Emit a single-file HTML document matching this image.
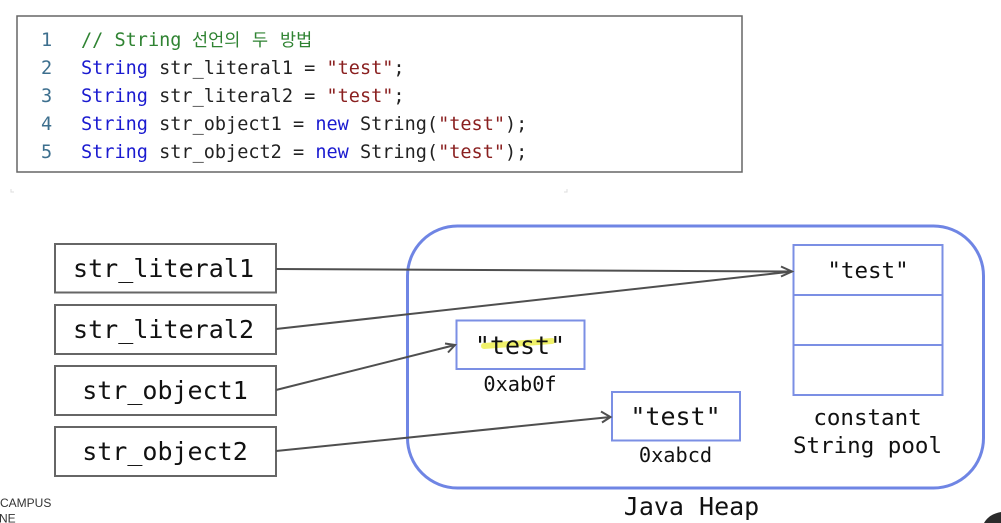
<!DOCTYPE html>
<html>
<head>
<meta charset="utf-8">
<style>
html,body{margin:0;padding:0;background:#fff;}
body{width:1001px;height:523px;overflow:hidden;}
svg{display:block;}
.c{font-family:"DejaVu Sans Mono","Liberation Mono","Noto Sans CJK KR",monospace;font-size:18.55px;}
.d{font-family:"DejaVu Sans Mono","Liberation Mono",monospace;fill:#111;}
.k{font-family:"Noto Sans CJK KR",sans-serif;font-size:17.5px;fill:#2f8332;}
</style>
</head>
<body>
<svg width="1001" height="523" viewBox="0 0 1001 523" xmlns="http://www.w3.org/2000/svg">
<rect x="0" y="0" width="1001" height="523" fill="#fff"/>
<!-- code box -->
<rect x="17" y="16" width="725" height="156" fill="#fff" stroke="#666" stroke-width="1.5"/>
<path d="M11 189v3h3M567 189v3h-3" fill="none" stroke="#ddd" stroke-width="1"/>
<g class="c">
<text x="41" y="46" fill="#3d6f8e">1</text>
<text x="41" y="74" fill="#3d6f8e">2</text>
<text x="41" y="102" fill="#3d6f8e">3</text>
<text x="41" y="130" fill="#3d6f8e">4</text>
<text x="41" y="158" fill="#3d6f8e">5</text>
<text x="81" y="46" fill="#2f8332" xml:space="preserve">// String</text>
<text x="81" y="74" xml:space="preserve"><tspan fill="#1a1ad0">String</tspan><tspan fill="#222"> str_literal1 = </tspan><tspan fill="#8a2020">"test"</tspan><tspan fill="#222">;</tspan></text>
<text x="81" y="102" xml:space="preserve"><tspan fill="#1a1ad0">String</tspan><tspan fill="#222"> str_literal2 = </tspan><tspan fill="#8a2020">"test"</tspan><tspan fill="#222">;</tspan></text>
<text x="81" y="130" xml:space="preserve"><tspan fill="#1a1ad0">String</tspan><tspan fill="#222"> str_object1 = </tspan><tspan fill="#1a1ad0">new</tspan><tspan fill="#222"> String(</tspan><tspan fill="#8a2020">"test"</tspan><tspan fill="#222">);</tspan></text>
<text x="81" y="158" xml:space="preserve"><tspan fill="#1a1ad0">String</tspan><tspan fill="#222"> str_object2 = </tspan><tspan fill="#1a1ad0">new</tspan><tspan fill="#222"> String(</tspan><tspan fill="#8a2020">"test"</tspan><tspan fill="#222">);</tspan></text>
</g>
<text class="k" x="192" y="46">선언의</text>
<text class="k" x="252" y="46">두</text>
<text class="k" x="280" y="46">방법</text>
<!-- left boxes -->
<g fill="#fff" stroke="#666" stroke-width="2">
<rect x="55" y="244" width="221" height="48.5"/>
<rect x="55" y="305" width="221" height="49"/>
<rect x="55" y="366" width="221" height="49"/>
<rect x="55" y="427" width="221" height="49"/>
</g>
<g class="d" font-size="25" text-anchor="middle">
<text x="163.5" y="277" textLength="181" lengthAdjust="spacing">str_literal1</text>
<text x="163.5" y="338" textLength="181" lengthAdjust="spacing">str_literal2</text>
<text x="165" y="399">str_object1</text>
<text x="165" y="460">str_object2</text>
</g>
<!-- heap -->
<rect x="407.5" y="226" width="576" height="262" rx="50" ry="50" fill="none" stroke="#6f85e4" stroke-width="3"/>
<!-- pool -->
<g fill="#fff" stroke="#7b8fe4" stroke-width="2">
<rect x="793.5" y="245" width="149" height="150"/>
<path d="M793.5 295H942.5M793.5 345H942.5" fill="none"/>
<rect x="456.5" y="320.5" width="128" height="48.5"/>
<rect x="612" y="392" width="128" height="48.5"/>
</g>
<!-- highlight -->
<path d="M484 346L552 341" stroke="#eef05a" stroke-width="6" stroke-linecap="round" fill="none" opacity="0.9"/>
<g class="d" text-anchor="middle">
<text x="868" y="278" font-size="22.5">"test"</text>
<text x="520" y="354" font-size="25">"test"</text>
<text x="675.5" y="425" font-size="25">"test"</text>
</g>
<g class="d" font-size="20.3" text-anchor="middle">
<text x="520" y="391">0xab0f</text>
<text x="675.5" y="462">0xabcd</text>
</g>
<g class="d" font-size="22.5" text-anchor="middle">
<text x="867.5" y="425">constant</text>
<text x="867.5" y="453">String pool</text>
</g>
<text class="d" x="691.5" y="515" font-size="25" text-anchor="middle">Java Heap</text>
<!-- arrows -->
<g fill="none" stroke="#4f4f4f" stroke-width="2">
<path d="M276 269L792 271.5"/>
<path d="M276 329L792 271.5"/>
<path d="M781 266.5L792 271.5L781 276.5"/>
<path d="M276 390L455 345"/>
<path d="M445 343.5L455 345L448 352.5"/>
<path d="M276 451L610.5 417"/>
<path d="M601 411.5L610.5 417L602 422.5"/>
</g>
<!-- corner text -->
<text x="0" y="507" font-family="'Liberation Sans',sans-serif" font-size="12" fill="#333">CAMPUS</text>
<text x="-1" y="522.5" font-family="'Liberation Sans',sans-serif" font-size="12" fill="#333">NE</text>
<path d="M984 523Q989 514 1001 512V523Z" fill="#2b2b2b"/>
</svg>
</body>
</html>
